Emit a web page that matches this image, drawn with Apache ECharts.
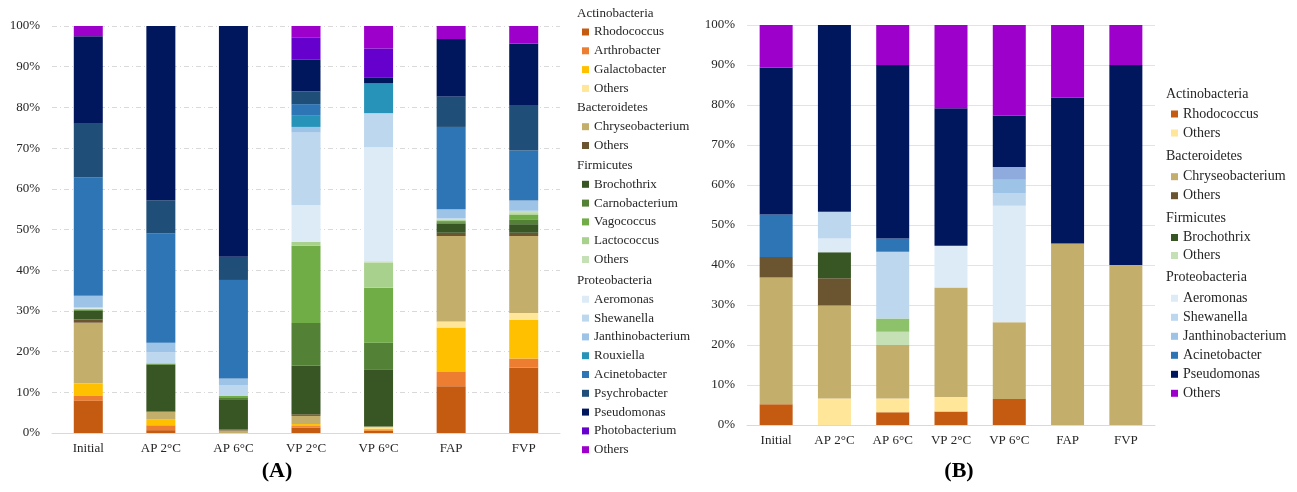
<!DOCTYPE html>
<html>
<head>
<meta charset="utf-8">
<script src="https://cdn.jsdelivr.net/npm/echarts@6.0.0/dist/echarts.min.js"></script>
<style>
  html, body { margin: 0; padding: 0; background: #fff; }
  #chart { width: 1297px; height: 492px; }
</style>
</head>
<body>
<div id="chart"></div>
<script>
// samples, same order for both panels
const categories = ['Initial', 'AP 2°C', 'AP 6°C', 'VP 2°C', 'VP 6°C', 'FAP', 'FVP'];

// panel A - relative abundance (%)
const aRhodococcus       = [7.9, 0.7, 0, 1.3, 0.5, 11.5, 16.1];
const aArthrobacter      = [1.2, 1.2, 0, 0.4, 0.2, 3.5, 2.2];
const aGalactobacter     = [3.1, 1.5, 0, 0.5, 0.4, 10.9, 9.5];
const aActinoOthers      = [0, 0, 0, 0, 0.3, 1.5, 1.7];
const aChryseobacterium  = [14.9, 1.8, 0.6, 2.0, 0.2, 21.0, 18.9];
const aBacteroOthers     = [0.8, 0.1, 0.3, 0.4, 0, 0.8, 0.8];
const aBrochothrix       = [2.1, 11.4, 7.4, 11.9, 13.9, 2.3, 2.1];
const aCarnobacterium    = [0.2, 0.2, 0.3, 10.5, 6.7, 0.3, 1.2];
const aVagococcus        = [0.2, 0.2, 0.5, 19.0, 13.5, 0.4, 1.1];
const aLactococcus       = [0.1, 0, 0, 1.0, 6.2, 0.2, 0.4];
const aFirmiOthers       = [0.1, 0, 0, 0, 0.3, 0.2, 0.6];
const aAeromonas         = [0.1, 0, 0, 9.0, 28.0, 0, 0];
const aShewanella        = [0.2, 2.7, 2.7, 17.8, 8.4, 0.2, 0];
const aJanthinobacterium = [2.8, 2.4, 1.6, 1.4, 0, 2.2, 2.5];
const aRouxiella         = [0, 0, 0, 2.9, 7.3, 0, 0];
const aAcinetobacter     = [29.1, 26.9, 24.2, 2.7, 0, 20.2, 12.3];
const aPsychrobacter     = [13.2, 8.1, 5.7, 3.1, 0, 7.5, 11.2];
const aPseudomonas       = [21.5, 42.8, 56.7, 7.8, 1.5, 14.1, 15.1];
const aPhotobacterium    = [0, 0, 0, 5.4, 7.1, 0, 0];
const aProteoOthers      = [2.5, 0, 0, 2.9, 5.5, 3.2, 4.3];

// panel B - relative abundance (%)
const bRhodococcus       = [5.2, 0, 3.2, 3.4, 6.5, 0, 0];
const bActinoOthers      = [0, 6.6, 3.4, 3.6, 0, 0, 0];
const bChryseobacterium  = [31.7, 23.3, 13.4, 27.4, 19.2, 45.4, 40.0];
const bBacteroOthers     = [5.1, 6.8, 0, 0, 0, 0, 0];
const bBrochothrix       = [0, 6.5, 0, 0, 0, 0, 0];
const bFirmiOthers       = [0, 0, 3.3, 0, 0, 0, 0];
const bFirmiUnlisted     = [0, 0, 3.3, 0, 0, 0, 0];
const bAeromonas         = [0, 3.4, 0, 10.4, 29.1, 0, 0];
const bShewanella        = [0, 6.7, 16.7, 0, 3.2, 0, 0];
const bJanthinobacterium = [0, 0, 0, 0, 3.3, 0, 0];
const bProteoUnlisted    = [0, 0, 0, 0, 3.2, 0, 0];
const bAcinetobacter     = [10.6, 0, 3.3, 0, 0, 0, 0];
const bPseudomonas       = [36.8, 46.7, 43.4, 34.4, 12.8, 36.4, 50.0];
const bProteoOthers      = [10.6, 0, 10.0, 20.8, 22.7, 18.2, 10.0];

const yTicks = [0, 10, 20, 30, 40, 50, 60, 70, 80, 90, 100];

const colors = {
    'Rhodococcus': '#C55A11',
    'Arthrobacter': '#ED7D31',
    'Galactobacter': '#FFC000',
    'Actinobacteria Others': '#FFE699',
    'Chryseobacterium': '#C4AE6C',
    'Bacteroidetes Others': '#6B5530',
    'Brochothrix': '#375623',
    'Carnobacterium': '#538135',
    'Vagococcus': '#70AD47',
    'Lactococcus': '#A9D18E',
    'Firmicutes Others': '#C5E0B4',
    'Firmicutes unlisted': '#8DC26B',
    'Aeromonas': '#DDEBF7',
    'Shewanella': '#BDD7EE',
    'Janthinobacterium': '#9DC3E6',
    'Proteobacteria unlisted': '#8FAADC',
    'Rouxiella': '#2893B8',
    'Acinetobacter': '#2E75B6',
    'Psychrobacter': '#1F4E79',
    'Pseudomonas': '#00175E',
    'Photobacterium': '#6600CC',
    'Proteobacteria Others': '#9E00CC'
};

const serif = "'Liberation Serif', 'Times New Roman', serif";
const textColor = '#262626';

const panelA = [
    ['Rhodococcus', aRhodococcus], ['Arthrobacter', aArthrobacter], ['Galactobacter', aGalactobacter],
    ['Actinobacteria Others', aActinoOthers], ['Chryseobacterium', aChryseobacterium],
    ['Bacteroidetes Others', aBacteroOthers], ['Brochothrix', aBrochothrix],
    ['Carnobacterium', aCarnobacterium], ['Vagococcus', aVagococcus], ['Lactococcus', aLactococcus],
    ['Firmicutes Others', aFirmiOthers], ['Aeromonas', aAeromonas], ['Shewanella', aShewanella],
    ['Janthinobacterium', aJanthinobacterium], ['Rouxiella', aRouxiella],
    ['Acinetobacter', aAcinetobacter], ['Psychrobacter', aPsychrobacter],
    ['Pseudomonas', aPseudomonas], ['Photobacterium', aPhotobacterium],
    ['Proteobacteria Others', aProteoOthers]
];

const panelB = [
    ['Rhodococcus', bRhodococcus], ['Actinobacteria Others', bActinoOthers],
    ['Chryseobacterium', bChryseobacterium], ['Bacteroidetes Others', bBacteroOthers],
    ['Brochothrix', bBrochothrix], ['Firmicutes Others', bFirmiOthers],
    ['Firmicutes unlisted', bFirmiUnlisted], ['Aeromonas', bAeromonas],
    ['Shewanella', bShewanella], ['Janthinobacterium', bJanthinobacterium],
    ['Proteobacteria unlisted', bProteoUnlisted], ['Acinetobacter', bAcinetobacter],
    ['Pseudomonas', bPseudomonas], ['Proteobacteria Others', bProteoOthers]
];

function barSeries(name, data, panel) {
    return {
        name: name,
        type: 'bar',
        stack: 'panel' + panel,
        xAxisIndex: panel,
        yAxisIndex: panel,
        barWidth: panel ? 33 : 29,
        data: data,
        itemStyle: { color: colors[name] }
    };
}

// legend entries show "Others" for the phylum-level rest
function shortName(name) {
    return name.endsWith(' Others') ? 'Others' : name;
}

function groupLegend(names, left, top, fontSize, lineHeight) {
    return {
        orient: 'vertical',
        left: left,
        top: top,
        padding: 0,
        itemGap: 0,
        itemWidth: 7,
        itemHeight: 7,
        icon: 'rect',
        selectedMode: false,
        data: names,
        formatter: shortName,
        textStyle: { fontFamily: serif, fontSize: fontSize, lineHeight: lineHeight, color: textColor }
    };
}

function header(text, x, y, fontSize) {
    return {
        type: 'text', x: x, y: y,
        style: { text: text, fontFamily: serif, fontSize: fontSize, fill: textColor, verticalAlign: 'middle' }
    };
}

function xAxisFor(panel) {
    return {
        type: 'category',
        gridIndex: panel,
        data: categories,
        axisTick: { show: false },
        axisLine: { lineStyle: { color: '#D9D9D9', width: 1 } },
        axisLabel: { interval: 0, margin: 9, fontFamily: serif, fontSize: 13, color: textColor }
    };
}

function yAxisFor(panel) {
    return {
        type: 'value',
        gridIndex: panel,
        min: yTicks[0],
        max: yTicks[yTicks.length - 1],
        interval: yTicks[1] - yTicks[0],
        axisLine: { show: false },
        axisTick: { show: false },
        axisLabel: { formatter: '{value}%', margin: 12, fontFamily: serif, fontSize: 13, color: textColor },
        splitLine: {
            lineStyle: panel
                ? { color: '#E3E3E3', type: 'solid', width: 1 }
                : { color: '#D9D9D9', type: [5, 3, 1, 3], width: 1 }
        }
    };
}

const chart = echarts.init(document.getElementById('chart'));

chart.setOption({
    animation: false,
    backgroundColor: '#fff',
    grid: [
        { left: 52, top: 26, width: 508, height: 407 },
        { left: 747, top: 25, width: 408, height: 400 }
    ],
    xAxis: [xAxisFor(0), xAxisFor(1)],
    yAxis: [yAxisFor(0), yAxisFor(1)],
    legend: [
        groupLegend(['Rhodococcus', 'Arthrobacter', 'Galactobacter', 'Actinobacteria Others'], 582, 22.6, 13, 18.8),
        groupLegend(['Chryseobacterium', 'Bacteroidetes Others'], 582, 117.3, 13, 18.8),
        groupLegend(['Brochothrix', 'Carnobacterium', 'Vagococcus', 'Lactococcus', 'Firmicutes Others'], 582, 174.9, 13, 18.8),
        groupLegend(['Aeromonas', 'Shewanella', 'Janthinobacterium', 'Rouxiella', 'Acinetobacter',
                     'Psychrobacter', 'Pseudomonas', 'Photobacterium', 'Proteobacteria Others'], 582, 289.9, 13, 18.8),
        groupLegend(['Rhodococcus', 'Actinobacteria Others'], 1171, 104.5, 14, 19),
        groupLegend(['Chryseobacterium', 'Bacteroidetes Others'], 1171, 167.2, 14, 19),
        groupLegend(['Brochothrix', 'Firmicutes Others'], 1171, 228.5, 14, 18),
        groupLegend(['Aeromonas', 'Shewanella', 'Janthinobacterium', 'Acinetobacter',
                     'Pseudomonas', 'Proteobacteria Others'], 1171, 288.8, 14, 19)
    ],
    graphic: [
        header('Actinobacteria', 577, 13.5, 13),
        header('Bacteroidetes', 577, 107.5, 13),
        header('Firmicutes', 577, 165.5, 13),
        header('Proteobacteria', 577, 280.5, 13),
        header('Actinobacteria', 1166, 94, 14),
        header('Bacteroidetes', 1166, 156.7, 14),
        header('Firmicutes', 1166, 218.3, 14),
        header('Proteobacteria', 1166, 277.3, 14),
        {
            type: 'text', x: 277, y: 471,
            style: { text: '(A)', fontFamily: serif, fontSize: 22, fontWeight: 'bold', fill: '#000', align: 'center', verticalAlign: 'middle' }
        },
        {
            type: 'text', x: 959, y: 471,
            style: { text: '(B)', fontFamily: serif, fontSize: 22, fontWeight: 'bold', fill: '#000', align: 'center', verticalAlign: 'middle' }
        }
    ],
    series: panelA.map(s => barSeries(s[0], s[1], 0))
        .concat(panelB.map(s => barSeries(s[0], s[1], 1)))
});
</script>
</body>
</html>
